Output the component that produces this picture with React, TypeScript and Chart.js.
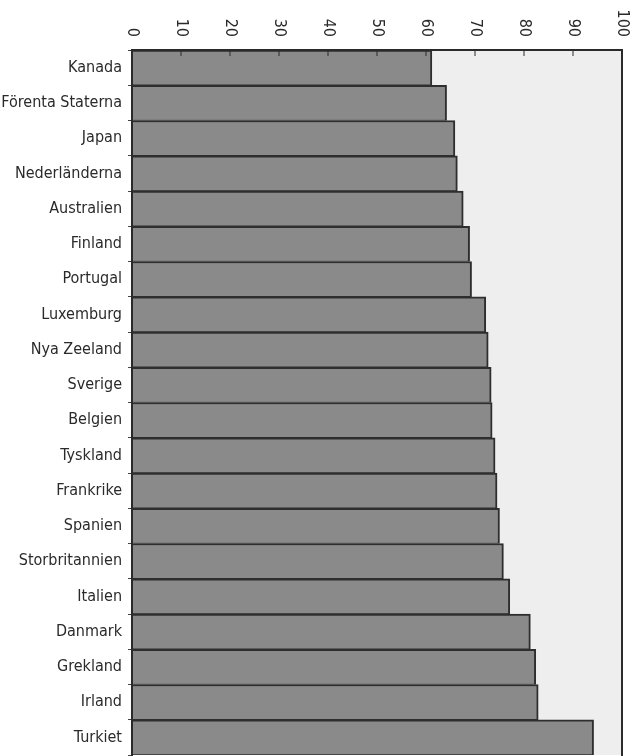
import React, { useEffect, useRef } from "react";
import { Chart, registerables } from "chart.js";

Chart.register(...registerables);

const categories = [
  "Kanada",
  "Förenta Staterna",
  "Japan",
  "Nederländerna",
  "Australien",
  "Finland",
  "Portugal",
  "Luxemburg",
  "Nya Zeeland",
  "Sverige",
  "Belgien",
  "Tyskland",
  "Frankrike",
  "Spanien",
  "Storbritannien",
  "Italien",
  "Danmark",
  "Grekland",
  "Irland",
  "Turkiet",
];

const values = [
  61.2, 64.2, 65.9, 66.4, 67.6, 68.9, 69.3, 72.2, 72.7, 73.3, 73.5, 74.1, 74.5,
  75.0, 75.8, 77.1, 81.3, 82.4, 82.9, 94.2,
];

const tickValues = [0, 10, 20, 30, 40, 50, 60, 70, 80, 90, 100];

const FONT = "'DejaVu Sans Condensed', 'Liberation Sans', sans-serif";

const framePlugin = {
  id: "framePlugin",
  beforeDraw(chart: any) {
    const { ctx, chartArea } = chart;
    ctx.save();
    ctx.fillStyle = "#eeeeee";
    ctx.fillRect(chartArea.left, chartArea.top, chartArea.right - chartArea.left, chartArea.bottom - chartArea.top);
    ctx.restore();
  },
  afterDraw(chart: any) {
    const { ctx, chartArea } = chart;
    const xs = chart.scales.x;
    ctx.save();
    ctx.strokeStyle = "#2a2a2a";
    ctx.lineWidth = 2;
    ctx.strokeRect(chartArea.left, chartArea.top, chartArea.right - chartArea.left, chartArea.bottom - chartArea.top + 6);
    ctx.lineWidth = 1;
    ctx.fillStyle = "#2a2a2a";
    ctx.font = "16px " + FONT;
    tickValues.forEach((v) => {
      const x = xs.getPixelForValue(v);
      ctx.beginPath();
      ctx.moveTo(x, chartArea.top);
      ctx.lineTo(x, chartArea.top + 6);
      ctx.stroke();
      ctx.save();
      ctx.translate(x, chartArea.top - 13);
      ctx.rotate(Math.PI / 2);
      ctx.textAlign = "right";
      ctx.textBaseline = "middle";
      ctx.fillText(String(v), 0, 0);
      ctx.restore();
    });
    ctx.restore();
  },
};

export default function App() {
  const ref = useRef<HTMLCanvasElement | null>(null);

  useEffect(() => {
    document.body.style.margin = "0";
    const canvas = ref.current;
    if (!canvas) return;
    const chart = new Chart(canvas, {
      type: "bar",
      data: {
        labels: categories,
        datasets: [
          {
            data: values,
            backgroundColor: "#8a8a8a",
            borderColor: "#2e2e2e",
            borderWidth: { top: 2, bottom: 1, right: 2, left: 0 },
            borderSkipped: false,
            barPercentage: 1,
            categoryPercentage: 1,
          },
        ],
      },
      options: {
        indexAxis: "y",
        animation: false,
        responsive: false,
        maintainAspectRatio: false,
        layout: { padding: { left: 0, right: 19, top: 0, bottom: 1 } },
        plugins: { legend: { display: false }, tooltip: { enabled: false } },
        scales: {
          x: {
            position: "top",
            min: 0,
            max: 100,
            ticks: { display: false, stepSize: 10 },
            grid: { display: false },
            border: { display: false },
            afterFit: (s: any) => {
              s.height = 50;
              s.paddingLeft = 0;
              s.paddingRight = 0;
            },
          },
          y: {
            position: "left",
            ticks: {
              color: "#2a2a2a",
              font: { family: FONT, size: 16 },
              padding: 6,
            },
            grid: {
              display: true,
              drawOnChartArea: false,
              drawTicks: true,
              tickLength: 4,
              color: "#444444",
              offset: true,
            },
            border: { display: false },
            afterFit: (s: any) => {
              s.width = 132;
              s.paddingTop = 0;
              s.paddingBottom = 0;
            },
          },
        },
      },
      plugins: [framePlugin],
    });
    return () => chart.destroy();
  }, []);

  return (
    <div style={{ width: 641, height: 756, background: "#ffffff" }}>
      <canvas ref={ref} width={641} height={756} style={{ display: "block", width: 641, height: 756 }} />
    </div>
  );
}
